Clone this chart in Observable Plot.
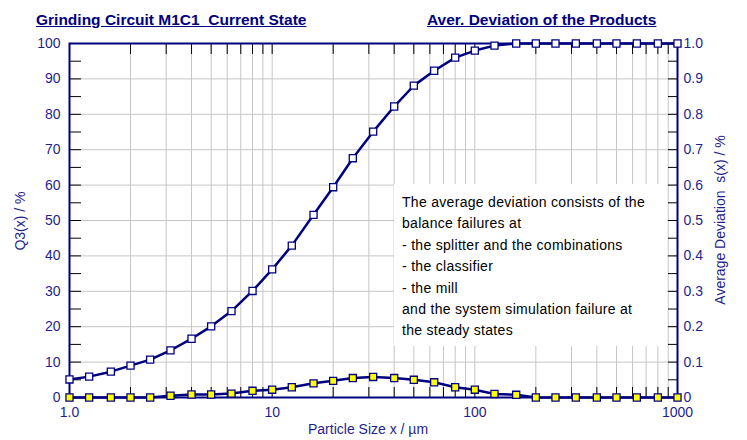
<!DOCTYPE html>
<html>
<head>
<meta charset="utf-8">
<script src="https://cdn.jsdelivr.net/npm/d3@7"></script>
<script src="https://cdn.jsdelivr.net/npm/@observablehq/plot@0.6"></script>
<style>
  html, body { margin: 0; padding: 0; background: #fff; }
  #wrap { position: relative; width: 747px; height: 440px; font-family: "Liberation Sans", Arial, sans-serif; color: #1f1f8c; }
  .title { position: absolute; top: 11px; font-weight: bold; font-size: 15.5px; text-decoration: underline; color: #000080; white-space: pre; }
  .alabel { position: absolute; font-size: 14px; white-space: pre; color: #1f1f8c; }
  .rot { transform: translate(-50%, -50%) rotate(-90deg); }
  #note { position: absolute; left: 394px; top: 184px; width: 265px; height: 154px; background: #fff; padding: 8px 0 0 8px; font-size: 14px; letter-spacing: 0.3px; line-height: 21.4px; color: #000; white-space: pre; }
</style>
</head>
<body>
<div id="wrap"></div>
<script>
// ---- data ----
const sizes = [1, 1.25, 1.6, 2, 2.5, 3.15, 4, 5, 6.3, 8, 10, 12.5, 16, 20, 25, 31.5, 40, 50, 63, 80, 100, 125, 160, 200, 250, 315, 400, 500, 630, 800, 1000];
const q3 = [5.1, 5.9, 7.3, 9.0, 10.7, 13.3, 16.6, 20.1, 24.4, 30.1, 36.2, 42.9, 51.6, 59.4, 67.6, 75.1, 82.2, 88.1, 92.3, 96.0, 98.0, 99.4, 100, 100, 100, 100, 100, 100, 100, 100, 100];
const dev = [0, 0, 0, 0, 0, 0.005, 0.0085, 0.0085, 0.011, 0.019, 0.022, 0.029, 0.040, 0.047, 0.055, 0.058, 0.055, 0.050, 0.043, 0.029, 0.022, 0.010, 0.0076, 0, 0, 0, 0, 0, 0, 0, 0];

const xTicks = [1, 5, 10, 50, 100, 500, 1000];
const xTickLabels = ["1.0", "5", "10", "50", "100", "500", "1000"];
const xMinor = [2, 3, 4, 5, 6, 7, 8, 9, 10, 20, 30, 40, 50, 60, 70, 80, 90, 100, 200, 300, 400, 500, 600, 700, 800, 900];
const yTicks = [0, 10, 20, 30, 40, 50, 60, 70, 80, 90, 100];
const yMinor = [5, 10, 15, 20, 25, 30, 35, 40, 45, 50, 55, 60, 65, 70, 75, 80, 85, 90, 95];
const devTicks = [0, 0.1, 0.2, 0.3, 0.4, 0.5, 0.6, 0.7, 0.8, 0.9, 1.0];
const devTickLabels = ["0", "0.1", "0.2", "0.3", "0.4", "0.5", "0.6", "0.7", "0.8", "0.9", "1.0"];
const devMinor = [0.05, 0.1, 0.15, 0.2, 0.25, 0.3, 0.35, 0.4, 0.45, 0.5, 0.55, 0.6, 0.65, 0.7, 0.75, 0.8, 0.85, 0.9, 0.95];

const titleLeft = "Grinding Circuit M1C1  Current State";
const titleRight = "Aver. Deviation of the Products";
const xLabel = "Particle Size x / µm";
const yLabel = "Q3(x) / %";
const y2Label = "Average Deviation  s(x) / %";
const noteLines = [
  "The average deviation consists of the",
  "balance failures at",
  "- the splitter and the combinations",
  "- the classifier",
  "- the mill",
  "and the system simulation failure at",
  "the steady states"
];

// ---- chart ----
const rows = sizes.map((x, i) => ({x, q3: q3[i], dev: dev[i]}));
const navy = "#000080";
const grid = "#c6c6c6";

const chart = Plot.plot({
  width: 747,
  height: 440,
  marginLeft: 69,
  marginRight: 70,
  marginTop: 43,
  marginBottom: 43,
  style: {fontFamily: '"Liberation Sans", Arial, sans-serif', fontSize: "14px", color: "#1f1f8c", background: "#fff", overflow: "visible"},
  x: {type: "log", domain: [1, 1000]},
  y: {domain: [0, 100]},
  marks: [
    Plot.gridX(xMinor, {stroke: grid, strokeOpacity: 1, strokeWidth: 1}),
    Plot.gridY(yTicks.slice(1, -1), {stroke: grid, strokeOpacity: 1, strokeWidth: 1}),
    // tick marks (inward)
    Plot.axisX(xMinor, {anchor: "top", tickSize: -10, tickFormat: () => "", stroke: "#000", label: null}),
    Plot.axisX(xMinor, {anchor: "bottom", tickSize: -10, tickFormat: () => "", stroke: "#000", label: null}),
    Plot.axisY(yMinor, {anchor: "left", tickSize: -12, tickFormat: () => "", stroke: "#000", label: null}),
    Plot.axisY(devMinor.map(v => v * 100), {anchor: "right", tickSize: -10, tickFormat: () => "", stroke: "#000", label: null}),
    // tick labels
    Plot.axisX(xTicks, {anchor: "bottom", tickSize: 0, tickPadding: 10, tickFormat: (d) => xTickLabels[xTicks.indexOf(d)], label: null, fill: "#1f1f8c"}),
    Plot.axisY(yTicks, {anchor: "left", tickSize: 0, tickPadding: 9, tickFormat: (d) => String(d), label: null, fill: "#1f1f8c"}),
    Plot.axisY(devTicks.map(v => v * 100), {anchor: "right", tickSize: 0, tickPadding: 6, tickFormat: (d) => devTickLabels[Math.round(d / 10)], label: null, fill: "#1f1f8c"}),
    // series
    Plot.line(rows, {x: "x", y: "q3", stroke: navy, strokeWidth: 2.5}),
    Plot.line(rows, {x: "x", y: d => d.dev * 100, stroke: navy, strokeWidth: 2.5}),
    Plot.frame({stroke: navy, strokeWidth: 2}),
    Plot.dot(rows, {x: "x", y: "q3", symbol: "square", r: 4, fill: "#fff", stroke: navy, strokeWidth: 1.3}),
    Plot.dot(rows, {x: "x", y: d => d.dev * 100, symbol: "square", r: 4, fill: "#ffff00", stroke: navy, strokeWidth: 1.3})
  ]
});

const wrap = document.getElementById("wrap");
wrap.appendChild(chart);

function addDiv(cls, text, css) {
  const d = document.createElement("div");
  d.className = cls;
  d.textContent = text;
  Object.assign(d.style, css);
  wrap.appendChild(d);
  return d;
}
addDiv("title", titleLeft, {left: "36px"});
addDiv("title", titleRight, {left: "427px"});
addDiv("alabel", xLabel, {left: "308px", top: "421px"});
addDiv("alabel rot", yLabel, {left: "20px", top: "221px"});
addDiv("alabel rot", y2Label, {left: "720px", top: "220px"});
const note = document.createElement("div");
note.id = "note";
note.textContent = noteLines.join("\n");
wrap.appendChild(note);
</script>
</body>
</html>
